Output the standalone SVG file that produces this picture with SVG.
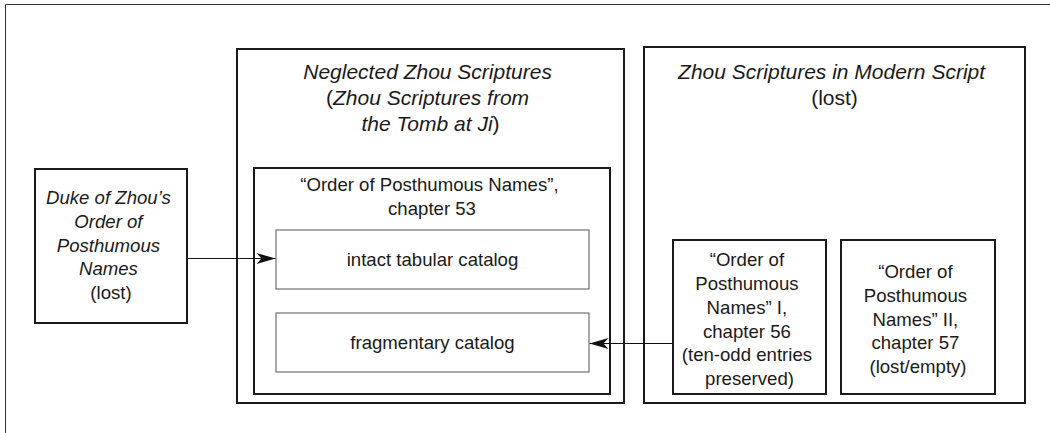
<svg xmlns="http://www.w3.org/2000/svg" width="1050" height="433" viewBox="0 0 1050 433">
  <style>
    .frame { stroke: #333; stroke-width: 1; fill: none; }
    .box { fill: #fff; stroke: #1a1a1a; stroke-width: 2; }
    .sub { fill: #fff; stroke: #555; stroke-width: 1; }
    .edge { stroke: #111; stroke-width: 1; fill: none; }
    text { font-family: "Liberation Sans", Arial, sans-serif; fill: #1a1a1a; text-anchor: middle; }
    .head { font-size: 21px; }
    .body { font-size: 18.6px; }
    .it { font-style: italic; }
  </style>
  <defs>
    <marker id="arrow" viewBox="-20 -6 21 12" refX="0" refY="0" markerWidth="21" markerHeight="12" markerUnits="userSpaceOnUse" orient="auto">
      <path d="M0,0 L-19,-5.5 L-14,0 L-19,5.5 Z" fill="#111"/>
    </marker>
  </defs>

  <rect width="1050" height="433" fill="#fff"/>
  <!-- page frame -->
  <path class="frame" d="M5.5,433 V4.5 H1050"/>

  <!-- source text -->
  <g id="duke">
    <rect class="box" x="35" y="169" width="152" height="154"/>
    <text class="body">
      <tspan class="it" x="111" y="204">Duke of Zhou’s</tspan>
      <tspan class="it" x="111" y="228">Order of</tspan>
      <tspan class="it" x="111" y="251.5">Posthumous</tspan>
      <tspan class="it" x="111" y="275">Names</tspan>
      <tspan x="111" y="299">(lost)</tspan>
    </text>
  </g>

  <!-- Neglected Zhou Scriptures -->
  <g id="neglected">
    <rect class="box" x="237" y="49" width="387" height="354"/>
    <text class="head">
      <tspan class="it" x="430.5" y="79">Neglected Zhou Scriptures</tspan>
      <tspan x="430.5" y="105">(<tspan class="it">Zhou Scriptures from</tspan></tspan>
      <tspan x="430.5" y="131"><tspan class="it">the Tomb at Ji</tspan>)</tspan>
    </text>
  </g>

  <g id="chapter53">
    <rect class="box" x="254" y="168" width="356" height="226"/>
    <text class="body">
      <tspan x="432" y="191">“Order of Posthumous Names”,</tspan>
      <tspan x="432" y="215">chapter 53</tspan>
    </text>
  </g>

  <g id="intact">
    <rect class="sub" x="276" y="230" width="313" height="59"/>
    <text class="body" x="432.5" y="266">intact tabular catalog</text>
  </g>

  <g id="fragmentary">
    <rect class="sub" x="276" y="313" width="313" height="59"/>
    <text class="body" x="432.5" y="349">fragmentary catalog</text>
  </g>

  <!-- Zhou Scriptures in Modern Script -->
  <g id="modern">
    <rect class="box" x="644" y="47" width="381" height="356"/>
    <text class="head">
      <tspan class="it" x="834.5" y="79">Zhou Scriptures in Modern Script</tspan>
      <tspan x="834.5" y="105">(lost)</tspan>
    </text>
  </g>

  <g id="chapter56">
    <rect class="box" x="673" y="240" width="153" height="154"/>
    <text class="body">
      <tspan x="749.5" y="266">“Order of</tspan>
      <tspan x="749.5" y="290">Posthumous</tspan>
      <tspan x="749.5" y="313.5">Names” I,</tspan>
      <tspan x="749.5" y="337.5">chapter 56</tspan>
      <tspan x="749.5" y="361">(ten-odd entries</tspan>
      <tspan x="749.5" y="384.5">preserved)</tspan>
    </text>
  </g>

  <g id="chapter57">
    <rect class="box" x="841" y="240" width="154" height="154"/>
    <text class="body">
      <tspan x="918" y="278">“Order of</tspan>
      <tspan x="918" y="302">Posthumous</tspan>
      <tspan x="918" y="325.5">Names” II,</tspan>
      <tspan x="918" y="349">chapter 57</tspan>
      <tspan x="918" y="372.5">(lost/empty)</tspan>
    </text>
  </g>

  <!-- connectors -->
  <g id="connectors">
    <path class="edge" d="M187,258.5 H275.5" marker-end="url(#arrow)"/>
    <path class="edge" d="M673,343.5 H589.5" marker-end="url(#arrow)"/>
  </g>
</svg>
